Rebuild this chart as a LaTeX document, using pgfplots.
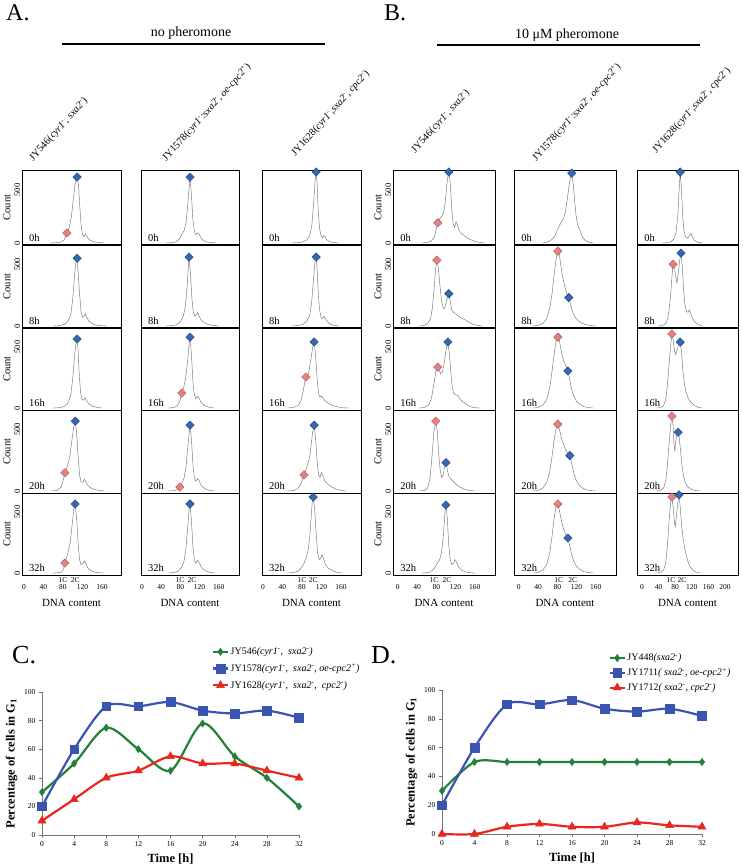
\documentclass[border=0pt]{standalone}
\usepackage{fontspec}
\setmainfont{Liberation Serif}
\usepackage{pgfplots}
\pgfplotsset{compat=1.18}

\definecolor{cgreen}{RGB}{34,128,58}
\definecolor{cblue}{RGB}{58,84,176}
\definecolor{cred}{RGB}{232,40,30}
\definecolor{dblue}{RGB}{52,104,176}
\definecolor{dred}{RGB}{232,128,128}

\tikzset{tlab/.style={anchor=south west, font=\fontsize{10.5}{10.5}\selectfont, inner sep=1pt}}

\pgfplotsset{
  /pgf/number format/assume math mode=true,
  hist/.style={scale only axis, anchor=north west, axis line style={line width=1pt},
    xtick=\empty, ytick=\empty, major tick length=0pt, clip=false},
  hcurve/.style={draw=black!55, line width=0.45pt, mark=none},
  bdiam/.style={only marks, mark=square*, mark size=3pt,
    mark options={rotate=45, fill=dblue, draw=dblue!65!black, line width=0.4pt}},
  rdiam/.style={only marks, mark=square*, mark size=3pt,
    mark options={rotate=45, fill=dred, draw=dred!70!black, line width=0.4pt}},
  cA1/.style={xmin=-4,xmax=199}, cA2/.style={xmin=-2,xmax=202}, cA3/.style={xmin=-2,xmax=201},
  cB1/.style={xmin=-10,xmax=202}, cB2/.style={xmin=-10,xmax=202}, cB3/.style={xmin=-12,xmax=231},
  rowone/.style={ymin=-19,ymax=689}, rowrest/.style={ymin=-16,ymax=656},
  firstcol/.style={ytick={0,500},
    yticklabel style={rotate=90, anchor=south, font=\fontsize{8.5}{8.5}\selectfont, inner sep=1.5pt},
    ylabel={Count}, ylabel style={font=\fontsize{10.5}{10.5}\selectfont, yshift=-1pt}},
  botrow/.style n args={3}{xtick={#1},
    xticklabel style={font=\fontsize{7.5}{7.5}\selectfont, inner sep=1pt, yshift=-8pt},
    extra x ticks={#2,#3}, extra x tick labels={1C,2C},
    extra x tick style={xticklabel style={yshift=7pt}},
    xlabel={DNA content},
    xlabel style={at={(rel axis cs:0.5,0)}, anchor=north, yshift=-21pt,
      font=\fontsize{11}{11}\selectfont}},
  lineplot/.style={scale only axis, anchor=south west, axis lines=left,
    axis line style={-, black!55, line width=0.5pt},
    xmin=0, xmax=32, ymin=0, ymax=100, xtick={0,4,...,32}, ytick={0,20,...,100},
    tick style={black!55, line width=0.5pt}, major tick length=3pt, tick align=outside,
    ticklabel style={font=\fontsize{7.5}{7.5}\selectfont},
    xlabel={\textbf{Time [h]}}, xlabel style={font=\fontsize{12.5}{12.5}\selectfont},
    ylabel={\textbf{Percentage of cells in G\textsubscript{1}}},
    ylabel style={font=\fontsize{12.5}{12.5}\selectfont},
    clip=false, legend cell align=left,
    legend style={anchor=north west, draw=none, fill=none,
      font=\fontsize{10}{10}\selectfont, row sep=4pt},
    legend image code/.code={\draw[mark repeat=2,mark phase=2,##1]
      plot coordinates {(0cm,0cm)(0.25cm,0cm)(0.5cm,0cm)};}},
  gline/.style={cgreen, line width=2.2pt, smooth, mark=diamond*, mark size=3.6pt,
    mark options={fill=cgreen, line width=0.5pt}},
  bline/.style={cblue, line width=2.2pt, smooth, mark=square*, mark size=4.3pt,
    mark options={fill=cblue, line width=0.5pt}},
  rline/.style={cred, line width=2.2pt, smooth, mark=triangle*, mark size=4.6pt,
    mark options={fill=cred, line width=0.5pt}},
}

% #1 x, #2 y top, #3 width, #4 height, #5 options, #6 histogram, #7 blue marker, #8 red marker, #9 time
\newcommand{\hpanel}[9]{%
  \begin{axis}[hist, at={(#1pt,-#2pt)}, width=#3pt, height=#4pt, #5]
    \addplot[hcurve] coordinates {#6};
    \if\relax\detokenize{#8}\relax\else\addplot[rdiam] coordinates {#8};\fi
    \if\relax\detokenize{#7}\relax\else\addplot[bdiam] coordinates {#7};\fi
    \node[tlab] at (rel axis cs:0.06,0.03) {#9};
  \end{axis}}

\newcommand{\strA}{JY546(\textit{cyr1}\textsuperscript{-}\textit{, sxa2}\textsuperscript{-})}
\newcommand{\strB}{JY1578(\textit{cyr1}\textsuperscript{-}\textit{:sxa2}\textsuperscript{-}\textit{, oe-cpc2}\textsuperscript{+})}
\newcommand{\strC}{JY1628(\textit{cyr1}\textsuperscript{-}\textit{,sxa2}\textsuperscript{-}\textit{, cpc2}\textsuperscript{-})}

\begin{document}
\begin{tikzpicture}
\path[use as bounding box] (0,0) rectangle (742pt,-867pt);

% headings
\node[font=\fontsize{24}{24}\selectfont, anchor=west, inner sep=0pt] at (6pt,-13pt) {A.};
\node[font=\fontsize{14}{14}\selectfont] at (191pt,-33pt) {no pheromone};
\draw[line width=1.1pt] (62pt,-44pt) -- (325pt,-44pt);
\node[font=\fontsize{24}{24}\selectfont, anchor=west, inner sep=0pt] at (384pt,-13pt) {B.};
\node[font=\fontsize{14}{14}\selectfont] at (567pt,-35pt) {10 μM pheromone};
\draw[line width=1.1pt] (437pt,-45pt) -- (700pt,-45pt);

\begin{scope}[every node/.style={rotate=48, anchor=south west, inner sep=0pt,
    font=\fontsize{10.2}{10.2}\selectfont}]
  \node at (35pt,-163pt) {\strA};
  \node at (168pt,-163pt) {\strB};
  \node at (297pt,-158pt) {\strC};
  \node at (417pt,-155pt) {\strA};
  \node at (538pt,-163pt) {\strB};
  \node at (658pt,-155pt) {\strC};
\end{scope}

% ---- row 0h
\hpanel{22}{170}{99}{75}{cA1,rowone,firstcol}{(55,0)(65,2)(75,8)(82,25)(88,94)(93,150)(97,240)(101,400)(105,560)(109,622)(112,540)(114,380)(117,180)(120,80)(123,60)(126,85)(128,70)(132,40)(138,20)(145,10)(155,4)(165,0)}{(109,622)}{(88,94)}{0h}
\hpanel{141}{170}{98}{75}{cA2,rowone}{(50,0)(62,3)(72,12)(78,40)(84,90)(88,120)(92,200)(96,400)(100,622)(103,450)(106,220)(109,110)(112,80)(116,95)(119,85)(123,45)(128,22)(135,10)(145,4)(155,0)}{(100,622)}{}{0h}
\hpanel{262}{170}{99}{75}{cA3,rowone}{(60,0)(72,3)(82,10)(90,30)(96,70)(100,160)(104,380)(107,600)(109,670)(111,560)(113,330)(116,140)(119,70)(122,50)(125,70)(127,60)(131,30)(137,12)(145,4)(155,0)}{(109,670)}{}{0h}
\hpanel{393}{170}{102}{75}{cB1,rowone,firstcol}{(50,0)(62,5)(70,20)(76,60)(80,130)(83,189)(87,230)(91,250)(95,280)(99,400)(103,600)(106,670)(109,560)(112,330)(115,180)(118,150)(121,200)(123,180)(127,120)(132,90)(138,70)(145,45)(152,30)(160,15)(170,5)(180,0)}{(106,670)}{(83,189)}{0h}
\hpanel{514}{170}{102}{75}{cB2,rowone}{(50,0)(60,10)(68,30)(74,60)(80,120)(85,170)(89,200)(93,230)(97,300)(101,420)(105,560)(108,640)(110,660)(113,560)(116,400)(119,260)(122,180)(125,140)(128,110)(132,60)(138,25)(145,8)(155,0)}{(110,660)}{}{0h}
\hpanel{637}{170}{101}{75}{cB3,rowone}{(50,0)(62,4)(70,12)(77,40)(82,100)(86,250)(89,480)(92,670)(95,500)(98,250)(101,110)(105,60)(110,45)(115,70)(118,90)(121,60)(126,25)(133,8)(145,0)}{(92,670)}{}{0h}

% ---- row 8h
\hpanel{22}{245}{99}{83}{cA1,rowrest,firstcol}{(60,0)(72,3)(82,12)(90,35)(96,90)(100,220)(104,420)(107,530)(109,549)(111,440)(114,260)(117,120)(120,70)(123,80)(126,100)(129,70)(134,35)(142,15)(150,6)(160,2)(170,0)}{(109,549)}{}{8h}
\hpanel{141}{245}{98}{83}{cA2,rowrest}{(50,0)(62,3)(72,10)(80,35)(86,80)(90,150)(94,320)(98,558)(101,420)(104,220)(107,110)(110,80)(113,90)(116,110)(119,80)(123,50)(128,30)(136,15)(145,6)(160,0)}{(98,558)}{}{8h}
\hpanel{262}{245}{99}{83}{cA3,rowrest}{(60,0)(72,4)(82,14)(90,40)(96,90)(100,200)(104,400)(107,530)(109,558)(111,460)(113,290)(116,130)(119,70)(122,60)(125,80)(128,60)(132,35)(138,15)(146,5)(156,0)}{(109,558)}{}{8h}
\hpanel{393}{245}{102}{83}{cB1,rowrest,firstcol}{(45,0)(55,5)(62,20)(68,60)(72,150)(76,330)(79,480)(81,533)(84,480)(87,350)(91,200)(95,140)(98,150)(102,220)(106,262)(109,200)(112,130)(116,110)(120,100)(126,80)(132,65)(140,50)(148,30)(156,15)(165,5)(175,0)}{(106,262)}{(81,533)}{8h}
\hpanel{514}{245}{102}{83}{cB2,rowrest}{(30,0)(40,5)(50,20)(58,60)(64,140)(69,260)(73,400)(77,530)(81,607)(84,590)(87,500)(91,400)(95,330)(99,270)(104,230)(108,170)(112,110)(117,70)(123,45)(130,25)(140,10)(150,3)(160,0)}{(104,230)}{(81,607)}{8h}
\hpanel{637}{245}{101}{83}{cB3,rowrest}{(40,0)(50,5)(57,20)(62,60)(66,150)(70,300)(73,440)(75,500)(78,480)(81,400)(84,350)(87,420)(91,540)(94,590)(97,480)(100,300)(103,180)(107,120)(111,110)(114,130)(117,100)(122,60)(128,30)(136,10)(146,0)}{(94,590)}{(75,500)}{8h}

% ---- row 16h
\hpanel{22}{328}{99}{82}{cA1,rowrest,firstcol}{(60,0)(72,3)(82,12)(90,40)(96,110)(100,240)(104,440)(107,540)(109,566)(111,480)(113,300)(116,130)(119,70)(122,65)(125,85)(128,65)(133,35)(140,15)(150,5)(160,0)}{(109,566)}{}{16h}
\hpanel{141}{328}{98}{82}{cA2,rowrest}{(55,0)(66,4)(74,20)(79,60)(83,123)(87,170)(91,250)(95,380)(98,520)(100,582)(103,440)(106,220)(109,110)(112,75)(116,95)(119,80)(123,45)(130,20)(140,6)(150,0)}{(100,582)}{(83,123)}{16h}
\hpanel{262}{328}{99}{82}{cA3,rowrest}{(50,0)(62,5)(72,20)(78,60)(83,150)(86,220)(88,254)(90,230)(92,260)(95,320)(99,420)(102,500)(105,541)(108,420)(111,240)(114,120)(117,90)(120,100)(123,80)(128,55)(135,35)(145,18)(155,8)(165,2)(175,0)}{(105,541)}{(88,254)}{16h}
\hpanel{393}{328}{102}{82}{cB1,rowrest,firstcol}{(45,0)(55,5)(64,25)(70,80)(75,200)(79,300)(83,336)(86,310)(89,280)(93,300)(97,380)(100,470)(104,541)(107,450)(110,300)(113,180)(116,120)(120,110)(125,100)(130,70)(136,50)(143,30)(150,12)(160,3)(170,0)}{(104,541)}{(83,336)}{16h}
\hpanel{514}{328}{102}{82}{cB2,rowrest}{(30,0)(40,5)(50,25)(58,70)(64,160)(69,300)(73,430)(77,540)(81,582)(84,560)(88,470)(92,400)(97,350)(102,303)(106,230)(110,150)(115,90)(120,55)(127,30)(135,12)(145,4)(155,0)}{(102,303)}{(81,582)}{16h}
\hpanel{637}{328}{101}{82}{cB3,rowrest}{(35,0)(45,5)(52,20)(57,70)(61,180)(65,350)(69,520)(72,607)(75,560)(78,470)(81,440)(84,470)(88,520)(92,541)(95,460)(98,320)(102,200)(106,130)(110,90)(115,60)(120,40)(127,20)(135,6)(145,0)}{(92,541)}{(72,607)}{16h}

% ---- row 20h
\hpanel{22}{410}{99}{83}{cA1,rowrest,firstcol}{(55,0)(68,4)(76,30)(80,80)(84,148)(89,200)(94,280)(98,400)(102,520)(105,566)(108,470)(111,280)(114,130)(117,75)(121,70)(124,95)(127,75)(131,45)(137,25)(145,12)(155,5)(165,0)}{(105,566)}{(84,148)}{20h}
\hpanel{141}{410}{98}{83}{cA2,rowrest}{(55,0)(66,3)(74,12)(79,33)(84,70)(88,110)(92,210)(96,380)(100,533)(103,420)(106,220)(109,110)(112,80)(116,100)(119,85)(123,45)(130,20)(140,6)(150,0)}{(100,533)}{(79,33)}{20h}
\hpanel{262}{410}{99}{83}{cA3,rowrest}{(50,0)(62,4)(72,20)(78,60)(81,100)(84,131)(88,170)(92,220)(96,280)(99,380)(102,480)(105,533)(108,420)(111,240)(114,130)(117,110)(120,150)(123,120)(127,80)(133,55)(140,35)(150,15)(160,5)(170,0)}{(105,533)}{(84,131)}{20h}
\hpanel{393}{410}{102}{83}{cB1,rowrest,firstcol}{(45,0)(55,5)(62,25)(67,100)(71,280)(75,480)(79,566)(82,480)(85,300)(88,170)(91,110)(94,130)(97,190)(100,230)(103,170)(106,120)(110,100)(115,80)(122,50)(130,30)(140,12)(150,3)(160,0)}{(100,230)}{(79,566)}{20h}
\hpanel{514}{410}{102}{83}{cB2,rowrest}{(30,0)(40,5)(50,25)(58,70)(64,150)(69,280)(73,400)(77,500)(81,541)(85,490)(89,420)(94,370)(98,330)(102,300)(106,287)(110,220)(114,150)(119,90)(125,50)(132,25)(140,10)(150,3)(160,0)}{(106,287)}{(81,541)}{20h}
\hpanel{637}{410}{101}{83}{cB3,rowrest}{(35,0)(45,5)(52,25)(57,80)(61,200)(65,380)(69,540)(72,607)(75,520)(77,380)(79,320)(81,400)(84,460)(87,476)(90,420)(93,320)(96,210)(100,120)(104,70)(110,35)(118,15)(128,4)(140,0)}{(87,476)}{(72,607)}{20h}

% ---- row 32h
\hpanel{22}{493}{99}{82}{cA1,rowrest,firstcol,botrow={{0,40,80,120,160}}{80}{105}}{(60,0)(75,4)(80,20)(84,82)(90,160)(95,260)(99,400)(102,520)(105,566)(108,450)(111,250)(114,110)(117,70)(121,80)(124,100)(127,80)(131,40)(137,20)(145,8)(155,2)(165,0)}{(105,566)}{(84,82)}{32h}
\hpanel{141}{493}{98}{82}{cA2,rowrest,botrow={{0,40,80,120,160}}{79}{104}}{(55,0)(66,4)(75,15)(82,45)(87,90)(91,180)(95,360)(98,520)(100,566)(103,430)(106,220)(109,110)(112,80)(116,105)(119,90)(123,50)(130,22)(140,7)(150,0)}{(100,566)}{}{32h}
\hpanel{262}{493}{99}{82}{cA3,rowrest,botrow={{0,40,80,120,160}}{80}{103}}{(50,0)(62,4)(72,15)(78,40)(84,80)(88,120)(92,170)(96,300)(99,470)(101,580)(103,623)(106,520)(109,330)(112,170)(115,110)(118,120)(121,150)(124,120)(128,70)(134,40)(142,20)(152,6)(162,0)}{(103,623)}{}{32h}
\hpanel{393}{493}{102}{82}{cB1,rowrest,firstcol,botrow={{0,40,80,120,160}}{75}{102}}{(50,0)(60,3)(68,10)(76,40)(82,80)(87,110)(91,170)(95,320)(98,500)(100,558)(103,440)(106,220)(109,110)(112,70)(116,80)(119,110)(122,90)(126,50)(132,25)(140,10)(150,3)(160,0)}{(100,558)}{}{32h}
\hpanel{514}{493}{102}{82}{cB2,rowrest,botrow={{0,40,80,120,160}}{83}{112}}{(30,0)(40,5)(50,25)(58,70)(64,160)(69,300)(73,440)(77,540)(81,566)(85,500)(89,420)(93,360)(98,310)(102,287)(106,220)(110,150)(115,90)(120,55)(127,30)(135,12)(145,4)(155,0)}{(102,287)}{(81,566)}{32h}
\hpanel{637}{493}{101}{82}{cB3,rowrest,botrow={{0,40,80,120,160,200}}{70}{96}}{(35,0)(45,5)(52,25)(57,80)(61,220)(65,420)(69,580)(72,623)(75,540)(78,420)(80,380)(83,470)(86,580)(89,640)(92,540)(95,400)(99,280)(103,200)(107,140)(111,90)(116,50)(122,25)(130,8)(140,0)}{(89,640)}{(72,623)}{32h}

% ---- panel C
\node[font=\fontsize{26}{26}\selectfont, anchor=west, inner sep=0pt] at (12pt,-655pt) {C.};
\begin{axis}[lineplot, at={(42pt,-835pt)}, width=257pt, height=143pt,
  legend style={at={(0.65,1.34)}}]
\addplot[gline] coordinates {(0,30)(4,50)(8,75)(12,60)(16,45)(20,78)(24,55)(28,40)(32,20)};
\addplot[bline] coordinates {(0,20)(4,60)(8,90)(12,90)(16,93)(20,87)(24,85)(28,87)(32,82)};
\addplot[rline] coordinates {(0,10)(4,25)(8,40)(12,45)(16,55)(20,50)(24,50)(28,45)(32,40)};
\legend{JY546\textit{(cyr1\textsuperscript{-}, ~sxa2\textsuperscript{-})},
  JY1578\textit{(cyr1\textsuperscript{-}, ~sxa2\textsuperscript{-}, oe-cpc2\textsuperscript{+})},
  JY1628\textit{(cyr1\textsuperscript{-}, ~sxa2\textsuperscript{-}, ~cpc2\textsuperscript{-})}}
\end{axis}

% ---- panel D
\node[font=\fontsize{26}{26}\selectfont, anchor=west, inner sep=0pt] at (371pt,-655pt) {D.};
\begin{axis}[lineplot, at={(442pt,-834pt)}, width=260pt, height=144pt,
  legend style={at={(0.63,1.28)}, row sep=2pt}]
\addplot[gline] coordinates {(0,30)(4,50)(8,50)(12,50)(16,50)(20,50)(24,50)(28,50)(32,50)};
\addplot[bline] coordinates {(0,20)(4,60)(8,90)(12,90)(16,93)(20,87)(24,85)(28,87)(32,82)};
\addplot[rline] coordinates {(0,0)(4,0)(8,5)(12,7)(16,5)(20,5)(24,8)(28,6)(32,5)};
\legend{JY448\textit{(sxa2\textsuperscript{-})},
  JY1711\textit{( sxa2\textsuperscript{-}, oe-cpc2\textsuperscript{+})},
  JY1712\textit{( sxa2\textsuperscript{-}, cpc2\textsuperscript{-})}}
\end{axis}
\end{tikzpicture}
\end{document}
